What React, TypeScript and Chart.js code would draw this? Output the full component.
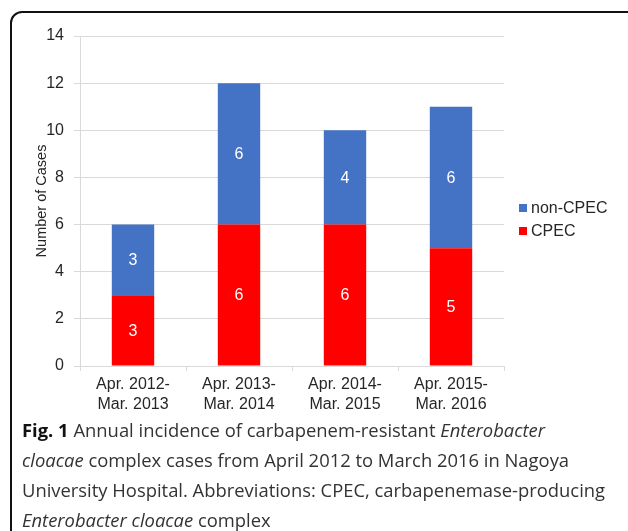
import React, { useEffect, useRef } from "react";
import { Chart, registerables } from "chart.js";

Chart.register(...registerables);

const categories: string[][] = [
  ["Apr. 2012-", "Mar. 2013"],
  ["Apr. 2013-", "Mar. 2014"],
  ["Apr. 2014-", "Mar. 2015"],
  ["Apr. 2015-", "Mar. 2016"],
];
const cpec: number[] = [3, 6, 6, 5];
const nonCpec: number[] = [3, 6, 4, 6];
const yTicks: number[] = [0, 2, 4, 6, 8, 10, 12, 14];
const yTitle = "Number of Cases";

const BLUE = "#4472C4";
const RED = "#FF0000";
const FONT = "'Liberation Sans', Arial, sans-serif";

const labelPlugin = {
  id: "segLabels",
  afterDatasetsDraw(chart: any) {
    const ctx = chart.ctx;
    ctx.save();
    ctx.font = `16px ${FONT}`;
    ctx.fillStyle = "#ffffff";
    ctx.textAlign = "center";
    ctx.textBaseline = "middle";
    chart.data.datasets.forEach((ds: any, di: number) => {
      const meta = chart.getDatasetMeta(di);
      meta.data.forEach((el: any, i: number) => {
        const v = ds.data[i];
        if (!v) return;
        ctx.fillText(String(v), el.x, (el.y + el.base) / 2 + 1);
      });
    });
    ctx.restore();
  },
};

const extrasPlugin = {
  id: "extras",
  afterDraw(chart: any) {
    const ctx = chart.ctx;
    ctx.save();
    ctx.translate(42, 201);
    ctx.rotate(-Math.PI / 2);
    ctx.font = `14.5px ${FONT}`;
    ctx.fillStyle = "#262626";
    ctx.textAlign = "center";
    ctx.textBaseline = "middle";
    ctx.fillText(yTitle, 0, 0);
    ctx.restore();
    ctx.save();
    ctx.font = `16px ${FONT}`;
    ctx.textBaseline = "middle";
    ctx.textAlign = "left";
    const items = [
      { label: chart.data.datasets[1].label, color: BLUE, y: 208 },
      { label: chart.data.datasets[0].label, color: RED, y: 231 },
    ];
    items.forEach((it) => {
      ctx.fillStyle = it.color;
      ctx.fillRect(519, it.y - 4, 8, 8);
      ctx.fillStyle = "#262626";
      ctx.fillText(it.label, 531, it.y + 1);
    });
    ctx.restore();
  },
};

function ChartCanvas() {
  const ref = useRef<HTMLCanvasElement>(null);
  useEffect(() => {
    if (!ref.current) return;
    const chart = new Chart(ref.current, {
      type: "bar",
      data: {
        labels: categories,
        datasets: [
          { label: "CPEC", data: cpec, backgroundColor: RED, barPercentage: 0.4, categoryPercentage: 1 },
          { label: "non-CPEC", data: nonCpec, backgroundColor: BLUE, barPercentage: 0.4, categoryPercentage: 1 },
        ],
      },
      options: {
        animation: false,
        responsive: false,
        maintainAspectRatio: false,
        layout: { padding: { left: 0, right: 124, top: 36, bottom: 0 } },
        plugins: { legend: { display: false }, tooltip: { enabled: false } },
        scales: {
          x: {
            stacked: true,
            afterFit: (s: any) => {
              s.height = 54;
            },
            grid: {
              offset: true,
              drawOnChartArea: false,
              drawTicks: true,
              tickLength: 5,
              color: "#d9d9d9",
            },
            border: { color: "#d9d9d9", width: 1 },
            ticks: {
              padding: 4,
              color: "#262626",
              font: { family: FONT, size: 16, lineHeight: 1.25 },
              maxRotation: 0,
              autoSkip: false,
            },
          },
          y: {
            stacked: true,
            min: 0,
            max: 14,
            afterFit: (s: any) => {
              s.width = 80;
            },
            afterBuildTicks: (s: any) => {
              s.ticks = yTicks.map((v) => ({ value: v }));
            },
            grid: { color: "#d9d9d9", tickLength: 6, lineWidth: 1 },
            border: { color: "#d9d9d9", width: 1 },
            ticks: {
              padding: 10,
              color: "#262626",
              font: { family: FONT, size: 16 },
            },
          },
        },
      },
      plugins: [labelPlugin, extrasPlugin],
    });
    return () => chart.destroy();
  }, []);
  return <canvas ref={ref} width={628} height={420} style={{ position: "absolute", left: 0, top: 0, width: 628, height: 420 }} />;
}

export default function App() {
  const cap: React.CSSProperties = {
    position: "absolute",
    left: 22,
    top: 415,
    width: 600,
    fontFamily: "'Open Sans', 'Noto Sans', sans-serif",
    fontSize: 18.4,
    lineHeight: "30px",
    color: "#333",
    whiteSpace: "nowrap",
  };
  return (
    <div style={{ position: "fixed", left: 0, top: 0, width: 628, height: 531, overflow: "hidden", background: "#fff" }}>
      <div
        style={{
          position: "absolute",
          left: 10,
          top: 11,
          width: 660,
          height: 640,
          border: "2px solid #111",
          borderRadius: 12,
          boxSizing: "border-box",
        }}
      />
      <ChartCanvas />
      <div style={cap}>
        <div>
          <span style={{ fontWeight: 700, color: "#111" }}>Fig. 1</span> Annual incidence of carbapenem-resistant <i>Enterobacter</i>
        </div>
        <div>
          <i>cloacae</i> complex cases from April 2012 to March 2016 in Nagoya
        </div>
        <div>University Hospital. Abbreviations: CPEC, carbapenemase-producing</div>
        <div>
          <i>Enterobacter cloacae</i> complex
        </div>
      </div>
    </div>
  );
}
